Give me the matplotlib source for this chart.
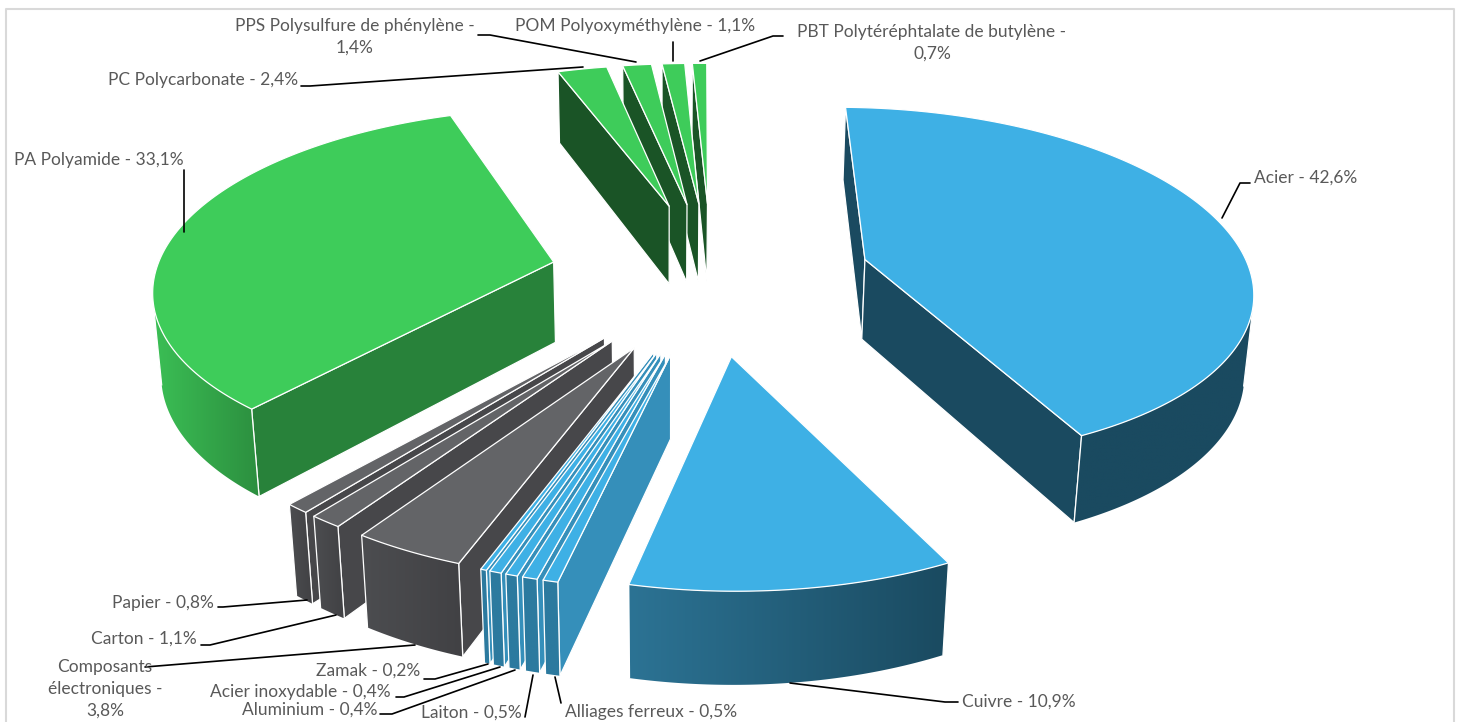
# coding: utf-8
import numpy as np
import matplotlib.pyplot as plt
from matplotlib.colors import LinearSegmentedColormap
from matplotlib.patches import Polygon

plt.rcParams['font.family'] = ['Lato', 'DejaVu Sans']

# Data, clockwise from the top of the pie
names = ["Acier", "Cuivre", "Alliages ferreux", "Laiton", "Aluminium",
         "Acier inoxydable", "Zamak", "Composants électroniques", "Carton",
         "Papier", "PA Polyamide", "PC Polycarbonate",
         "PPS Polysulfure de phénylène", "POM Polyoxyméthylène",
         "PBT Polytéréphtalate de butylène"]
values = [42.6, 10.9, 0.5, 0.5, 0.4, 0.4, 0.2, 3.8, 1.1, 0.8, 33.1, 2.4, 1.4, 1.1, 0.7]

# Colours per slice: top, radial wall, outer wall left, outer wall right
BLUE = "#3EB0E5"
GREY = "#636467"
GREEN = "#3ECC5A"
styles = [(BLUE, "#1A4A60", "#1A4A60", "#1A4A60"),
          (BLUE, "#1A4A60", "#2C7394", "#1A4A60")] \
    + [(BLUE, "#358FBA", "#2C7A9F", "#2C7A9F")] * 5 \
    + [(GREY, "#47474A", "#4C4D50", "#414144")] * 3 \
    + [(GREEN, "#28823A", "#3BBF55", "#2C8F3F")] \
    + [(GREEN, "#1A5426", "#1A5426", "#1A5426")] * 4

# Label text, anchor and alignment (pixels)
labels = [("Acier - 42,6%", 1254, 178, "left"),
          ("Cuivre - 10,9%", 962, 702, "left"),
          ("Alliages ferreux - 0,5%", 565, 712, "left"),
          ("Laiton - 0,5%", 421, 713, "left"),
          ("Aluminium - 0,4%", 377, 710, "right"),
          ("Acier inoxydable - 0,4%", 391, 692, "right"),
          ("Zamak - 0,2%", 420, 671, "right"),
          ("Composants\nélectroniques -\n3,8%", 105, 689, "center"),
          ("Carton - 1,1%", 197, 639, "right"),
          ("Papier - 0,8%", 214, 603, "right"),
          ("PA Polyamide - 33,1%", 14, 160, "left"),
          ("PC Polycarbonate - 2,4%", 298, 80, "right"),
          ("PPS Polysulfure de phénylène -\n1,4%", 355, 37, "center"),
          ("POM Polyoxyméthylène - 1,1%", 635, 26, "center"),
          ("PBT Polytéréphtalate de butylène -\n0,7%", 932, 43, "center")]

leaders = [[(1250, 183), (1240, 183), (1222, 218)],
           [(958, 702), (945, 702), (790, 683)],
           [(561, 703), (555, 677)],
           [(525, 717), (533, 675)],
           [(380, 714), (392, 714), (515, 670)],
           [(396, 697), (404, 697), (500, 667)],
           [(424, 679), (435, 679), (488, 664)],
           [(145, 667), (415, 645)],
           [(201, 645), (210, 645), (336, 615)],
           [(218, 607), (223, 607), (307, 600)],
           [(184, 170), (184, 232)],
           [(301, 86), (310, 86), (583, 67)],
           [(478, 35), (490, 35), (636, 62)],
           [(673, 42), (673, 61)],
           [(783, 36), (773, 36), (700, 61)]]

# View of the pie, radius = 1
ROTATION = -3.3
EXPLODE_X = 0.41
EXPLODE_Y = 0.43
HEIGHT = 0.235
ELEV = np.radians(27)
DIST = 6.5
SCALE = 392
VX, VY = 825, 276
XSHIFT = -(825 - 711) / SCALE
ROLL = np.arctan(10 / 315)
PIVOT = (710, 274)


def project(x, y, z):
    depth = y * np.cos(ELEV) - z * np.sin(ELEV)
    up = y * np.sin(ELEV) + z * np.cos(ELEV)
    w = 1 + depth / DIST
    px, py = VX + SCALE * (x + XSHIFT) / w, VY - SCALE * up / w
    dx, dy = px - PIVOT[0], py - PIVOT[1]
    return (PIVOT[0] + dx * np.cos(ROLL) - dy * np.sin(ROLL),
            PIVOT[1] + dx * np.sin(ROLL) + dy * np.cos(ROLL))


def area(pts):
    pts = np.array(pts)
    a, b = pts[:, 0], pts[:, 1]
    return np.sum(a * np.roll(b, -1) - np.roll(a, -1) * b)


fig = plt.figure(figsize=(14.59, 7.22), dpi=100)
ax = fig.add_axes([0, 0, 1, 1])
ax.axis("off")

# Frame, no bottom edge in the crop
ax.plot([5.5, 5.5, 1453.5, 1453.5], [722, 9, 9, 722], color="#D9D9D9", lw=1.5)

# Slice geometry
total = sum(values)
slices = []
start = ROTATION
for i, v in enumerate(values):
    span = v / total * 360
    mid = np.radians(start + span / 2)
    ox, oy = EXPLODE_X * np.sin(mid), EXPLODE_Y * np.cos(mid)
    th = np.radians(np.linspace(start, start + span, max(3, int(span * 2) + 2)))
    slices.append((oy + 0.5 * np.cos(mid), i, ox, oy, th))
    start += span

# Back to front
z = 3
for depth, i, ox, oy, th in sorted(slices, key=lambda s: -s[0]):
    top_col, wall_col, out_l, out_r = styles[i]
    rx, ry = ox + np.sin(th), oy + np.cos(th)
    top = [project(a, b, 0) for a, b in zip(rx, ry)]
    bot = [project(a, b, -HEIGHT) for a, b in zip(rx, ry)]
    apex_t = project(ox, oy, 0)
    apex_b = project(ox, oy, -HEIGHT)

    # Radial walls
    for wall in ([apex_t, top[0], bot[0], apex_b], [apex_t, apex_b, bot[-1], top[-1]]):
        if area(wall) < 0:
            z += 1
            ax.add_patch(Polygon(wall, closed=True, fc=wall_col, ec="white", lw=0.9,
                                 joinstyle="round", zorder=z))

    # Outer wall, gradient along x
    vis = [k for k in range(len(top) - 1)
           if area([top[k], top[k + 1], bot[k + 1], bot[k]]) < 0]
    if vis:
        run = list(range(vis[0], vis[-1] + 2))
        outline = [top[k] for k in run] + [bot[k] for k in run[::-1]]
        xs = [p[0] for p in outline]
        ys = [p[1] for p in outline]
        z += 1
        cmap = LinearSegmentedColormap.from_list("wall", [out_l, out_r])
        im = ax.imshow(np.linspace(0, 1, 128).reshape(1, -1), cmap=cmap, aspect="auto",
                       extent=(min(xs), max(xs), max(ys), min(ys)), zorder=z,
                       interpolation="bilinear")
        clip = Polygon(outline, closed=True, transform=ax.transData)
        im.set_clip_path(clip)
        for k in (run[0], run[-1]):
            ax.plot([top[k][0], bot[k][0]], [top[k][1], bot[k][1]], color="white", lw=0.9,
                    solid_capstyle="round", zorder=z + 1)
        z += 1

    # Top face
    z += 1
    ax.add_patch(Polygon([apex_t] + top, closed=True, fc=top_col, ec="white", lw=0.9,
                         joinstyle="round", zorder=z))

z += 1
for pts in leaders:
    ax.plot([p[0] for p in pts], [p[1] for p in pts], color="black", lw=1.2,
            solid_capstyle="round", zorder=z)

for txt, x, y, ha in labels:
    ax.text(x, y, txt, ha=ha, va="center", fontsize=12.5, color="#595959", linespacing=1.45,
            multialignment="center", zorder=z + 1)

ax.set_xlim(0, 1459)
ax.set_ylim(722, 0)

fig.savefig("out.png", dpi=100)
